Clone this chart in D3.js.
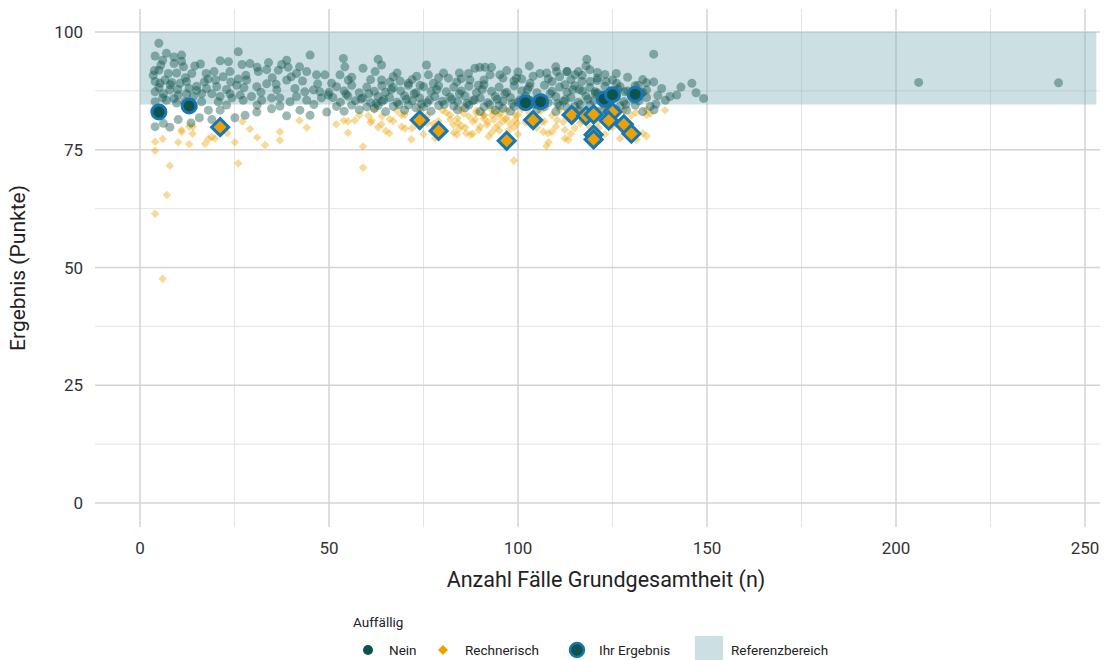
<!DOCTYPE html>
<html><head><meta charset="utf-8">
<script src="https://cdn.jsdelivr.net/npm/d3@7"></script>
<style>body{margin:0;background:#fff}svg{display:block;font-family:Roboto,"Noto Sans",sans-serif}</style>
</head><body><svg id="c" width="1109" height="660"></svg>
<script>
const xTicks=[0,50,100,150,200,250];
const xMinor=[25,75,125,175,225];
const yTicks=[0,25,50,75,100];
const yMinor=[12.5,37.5,62.5,87.5];
const refBand={x0:0,x1:253,y0:84.6,y1:100};
const legendLabels=["Nein","Rechnerisch","Ihr Ergebnis","Referenzbereich"];

const nein=[[5,97.6],[4,94.9],[7,95.5],[6,94],[9,94.7],[11,95.1],[11,93.8],[9,93.3],[11.5,92.6],[5,91.9],[7.5,91.2],[9.7,91.3],[13.7,91.2],[14.5,92.8],[16,93.2],[17.5,91.2],[19.6,91.6],[21.2,93.9],[23.4,93.7],[26,95.8],[23.8,91.6],[22,90.5],[4,89.5],[5.3,89.1],[6.6,89.8],[8.4,89.3],[10.6,89.1],[12.3,89.5],[15,88.5],[17.6,88],[20.3,88.4],[22.9,87.8],[25.6,88.7],[4,87.3],[6.2,86.9],[7.9,87.7],[10.1,86.6],[12.3,86.9],[14.1,86.3],[16.3,86.9],[19,86.9],[21.2,86.3],[23.8,86.9],[26.5,86.6],[4,85.2],[7,85.5],[9.7,84.9],[11.9,85.2],[14.1,84.1],[16.3,85.2],[18.1,83.4],[20.7,85.2],[22.9,84.5],[24.3,86],[4,83.4],[4,79.9],[6.2,80.6],[7.9,79.8],[10.1,81.4],[13.5,80.7],[15.7,81.8],[19,81.4],[21.2,83.4],[25.1,81.8],[27.3,85.5],
[5,88.2],[8,88.8],[10,87.8],[13,88],[17,89.4],[6,86],[9,85.9],[15,87.6],[18,90],[20,89.8],[24,89.4],[12,90.3],[3.5,90.8],[3.8,91.8],[5.5,93],[27,93.1],[26,90],[28,90.8],[27.5,88.2],
[29.1,93.3],[31,92.5],[31.3,91.6],[33.5,92],[36.6,91.9],[38.8,94],[39.2,92.5],[41.4,91.2],[42.2,92.6],[45,95.1],[44.1,91.6],[46.7,90.9],[48.9,90.9],[28.2,89.8],[30.9,88.4],[33.5,89],[36.2,87.7],[38.8,89.8],[41,88],[43.6,87.3],[45.9,87.7],[47.6,87.3],[29.5,86.3],[32.2,85.5],[34.8,86],[37,86],[39.7,85.2],[41.4,86.3],[44.1,85.5],[48,86],[49.8,86.6],[27.8,82.3],[30.9,83],[34.8,83.7],[37,84.3],[38.8,82.2],[42.3,83.4],[45,82.3],[49.4,83],
[35,90.3],[40,90.5],[43,89.6],[47,89],[32,87.2],[36,88.9],[46,84.6],[31,84.5],[34,93.5],[37.5,93.1],
[50.7,89.1],[53.8,94.4],[54.2,92.6],[52.9,90.9],[55.1,89.8],[59,92.3],[63,94.2],[63.9,93],[62.2,91.6],[63.9,89.8],[66.1,89.4],[68,91.3],[68.8,89.6],[71,89.1],[73.2,90.6],[75.8,93],[76.3,90.9],[74.1,88.7],[77.6,89.1],[80.3,91.3],[81.6,90.2],[83.8,89.4],[84.5,91.3],[86.9,91.2],[88.6,92.3],[89.9,92.5],[91.3,92.5],[93,92.5],[92.6,90.9],[95.2,90.9],[97,91.8],[98.9,89.6],[87.3,89.8],[89.5,88.7],
[52,88.4],[56,88.7],[60,88.3],[64,88.6],[67,88.2],[71,88.7],[75,88.4],[79,88.6],[83,88.3],[87,88.5],[91,88.8],[95,88.3],[99,88.6],[103,88.4],[107,88.7],[111,88.3],[115,88.6],[119,88.2],[123,88.5],[127,88.4],[131,88.6],
[50,87.2],[54,87.5],[58,87.1],[62,87.4],[65,87.2],[69,87.5],[73,87.1],[77,87.4],[81,87.3],[85,87.5],[89,87.1],[93,87.4],[97,87.2],[101,87.5],[105,87.1],[109,87.4],[113,87.2],[117,87.5],[121,87.1],[125,87.3],[129,87.5],[133,87.2],
[51,86.1],[55,86.4],[59,86],[63,86.3],[66,86.1],[70,86.4],[74,86],[78,86.3],[82,86.2],[86,86.4],[90,86],[94,86.3],[98,86.1],[102,86.4],[106,86],[110,86.3],[114,86.1],[118,86.4],[122,86],[126,86.2],[130,86.4],[134,86.1],
[53,85.1],[57,85.4],[61,85],[64,85.3],[68,85.1],[72,85.4],[76,85],[80,85.3],[84,85.2],[88,85.4],[92,85],[96,85.3],[100,85.1],[104,85.4],[108,85],[112,85.3],[116,85.1],[120,85.4],[124,85],[128,85.2],[132,85.4],
[52,84.2],[56,84.5],[60,84.1],[63,84.4],[67,84.2],[71,84.5],[75,84.1],[79,84.4],[83,84.3],[87,84.5],[91,84.1],[95,84.4],[99,84.2],[103,84.5],[107,84.1],[111,84.4],[115,84.2],[119,84.5],[123,84.1],[127,84.3],[131,84.5],[135,84.2],
[54,83.2],[58,83.5],[65,83.1],[70,83.4],[77,83.2],[84,83.5],[90,83.1],[94,83.4],[98,83.2],[105,83.5],[110,83.1],[116,83.4],[121,83.2],[126,83.5],[133,83.1],
[54.5,86.8],[58.5,85.8],[62.5,84.8],[66.5,87.8],[70.5,85.7],[74.5,84.7],[78.5,87.8],[82.5,85.7],[86.5,84.8],[90.5,87.8],[94.5,85.7],[98.5,84.8],[102.5,87.8],[106.5,85.7],[110.5,84.8],[114.5,87.8],[118.5,85.7],[122.5,84.8],[126.5,87.8],[130.5,85.7],
[60.5,86.9],[64.5,85.6],[68.5,84.6],[72.5,86.9],[76.5,85.6],[80.5,84.6],[84.5,86.9],[88.5,85.6],[92.5,84.6],[96.5,86.9],[100.5,85.6],[104.5,84.6],[108.5,86.9],[112.5,85.6],[116.5,84.6],[120.5,86.9],[124.5,85.6],[128.5,84.6],[132.5,86.9],[86,83.9],[96,83.8],[113,83.9],[124,83.8],[73,83.9],[62,83.8],
[56,90.4],[61,89.9],[67,90.5],[72,89.9],[79,90.3],[85,90.1],[91,89.8],[96,90.2],[101,90],[104,90.6],[108,90.1],[111,90.5],[114,89.9],[117,90.8],[121,90.2],[125,89.8],[129,90.4],[133,89.9],[110,92.6],[113,91.6],[100,91.5],[103,92.8],
[118.2,94.2],[118,92.8],[116,91.6],[119,92],[121,91.4],[123,91],[126,91.2],[123.3,89.5],[121,89.7],[126.1,89.1],[128.3,87.3],[131.8,88.7],[134,89.2],[135.9,89.4],[135.9,95.3],[134,87.7],[140.2,86.3],[142,86.6],[146,89.1],[143.1,88.3],[147.1,87.1],[149.1,85.9],[136,83.5],[128.7,83.4],
[105.8,91.2],[107.6,91.3],[110.2,91.6],[112.9,91.6],[99.6,90.2],[103.2,89.1],[109,89.5],[112.4,88.8],[115.1,90.9],[116.9,89.5],[119.1,89.5],[116.2,87.8],[120.4,87.3],
[137,86.5],[138,88],[139,85.5],[136.5,84.7],[206,89.3],[243,89.2]];

const rechnerisch=[[4,76.7],[4,74.8],[6,77.3],[7.9,71.6],[7.1,65.4],[4,61.4],[6,47.6],[10.1,76.6],[11,78.8],[13,76.2],[13.9,78.4],[13,79.9],[17.2,76.3],[18.1,77.3],[19,77.7],[23.1,78.5],[25.1,76.6],[26,72.1],[27.1,81],[29.1,79.4],[31,77.6],[33.1,76],[37,78.8],[37,77],[42.2,81.2],[44.1,79.7],[14,79.9],[11,79.2],[19.8,79.9],[19.8,77.4],
[51.9,80.4],[53.9,81.2],[55,78.6],[56.8,81.2],[59,75.7],[59,71.2],[60.4,82.2],[61.3,81.2],[63.9,80.4],[65,79],[66.1,81.5],[69.2,79.9],[70.1,79.5],[71.8,77.2],[69.2,82.4],[77.7,80.5],[78.1,77.4],[79.4,79.1],[82.1,81.5],[82.9,80.3],[84.3,79.4],[83.8,78.2],[85.6,82.7],[86.3,78.5],[87.4,78.2],[88.7,81.4],[89.6,79.2],[90.9,82.4],[91.8,80.3],[92.2,77.8],[93.1,82.4],[93.6,81.4],[94.9,80.3],[95.4,82.7],[96.7,81.4],[97.6,79.2],[99.3,82.4],[99.8,80.6],[98.9,72.7],
[99.2,81.3],[106.3,80.9],[106.7,78.8],[109,78.8],[108.1,76.6],[112.4,79.2],[112.4,77.4],[113.3,77.1],[110.3,81.3],[116.5,80.6],[119.1,79.8],[121.3,79.6],[121.7,77.1],[127,77.4],[131.2,82.9],[134,82.4],[135,82.7],[138.9,83.4],[134,77.9],[131.4,77.1],[107.5,75.8],
[62,83.5],[68,83.3],[74,83.6],[80,83.4],[85,83.6],[89,83.3],[93,83.5],[97,83.4],[101,83.6],[106,83.3],[111,83.5],[116,83.4],[122,83.6],[128,83.3],[134,83.5],
[58,82.3],[64,82.1],[70,82.4],[76,82.2],[82,82.4],[87,82.1],[91,82.3],[95,82.2],[100,82.4],[104,82.1],[109,82.3],[113,82.2],[118,82.4],[124,82.1],[130,82.3],
[55,81],[61,80.8],[67,81.1],[73,80.9],[79,81.1],[84,80.8],[88,81],[92,80.9],[96,81.1],[102,80.8],[107,81],[112,80.9],[117,81.1],[121,80.8],[127,81],
[63,79.8],[72,79.6],[78,79.9],[86,79.7],[90,79.9],[94,79.6],[99,79.8],[105,79.7],[110,79.9],[115,79.6],[125,79.8],
[66,78.5],[75,78.3],[83,78.6],[88,78.4],[93,78.6],[100,78.3],[108,78.5],[114,78.4],[119,78.6],[123,78.3],[133,78.5],
[81,82.9],[84,81.7],[89,82.8],[91,81.6],[94,82.9],[97,81.8],[98,80.5],[95,79.1],[85,80.1],[80,79.6],[76,80.7],[103,82.9],[115,82.9],[126,82.8]];

const ihrNein=[[5,83],[13,84.3],[102,85],[106,85.2],[122.8,85.8],[125,86.7],[131,86.8]];
const ihrRech=[[21.2,79.8],[74,81.3],[79,79],[97,76.9],[104,81.3],[114.2,82.4],[118,82.2],[120,82.5],[125,83],[124,81.2],[128,80.4],[130,78.4],[120,78.2],[120,77.2]];

const C_NEIN="#0f534d", C_RECH="#eba200", C_BLUE="#1676b6", C_BAND="#7fb0b7";
const svg=d3.select("#c");
const x=d3.scaleLinear().domain([0,250]).range([140,1085]);
const y=d3.scaleLinear().domain([0,100]).range([503,32]);
const gx0=95,gx1=1100,gy0=9,gy1=527;

const g=svg.append("g");
g.selectAll(".hm").data(yMinor).join("line").attr("x1",gx0).attr("x2",gx1).attr("y1",d=>y(d)).attr("y2",d=>y(d)).attr("stroke","#e3e3e3").attr("stroke-width",1);
g.selectAll(".vm").data(xMinor).join("line").attr("y1",gy0).attr("y2",gy1).attr("x1",d=>x(d)).attr("x2",d=>x(d)).attr("stroke","#e3e3e3").attr("stroke-width",1);
g.selectAll(".hM").data(yTicks).join("line").attr("x1",gx0).attr("x2",gx1).attr("y1",d=>y(d)).attr("y2",d=>y(d)).attr("stroke","#d3d3d3").attr("stroke-width",1.5);
g.selectAll(".vM").data(xTicks).join("line").attr("y1",gy0).attr("y2",gy1).attr("x1",d=>x(d)).attr("x2",d=>x(d)).attr("stroke","#d3d3d3").attr("stroke-width",1.5);

svg.append("rect").attr("x",x(refBand.x0)).attr("y",y(refBand.y1)).attr("width",x(refBand.x1)-x(refBand.x0)).attr("height",y(refBand.y0)-y(refBand.y1)).attr("fill",C_BAND).attr("opacity",0.4);

const diamond=(s)=>`M0,${-s}L${s},0L0,${s}L${-s},0Z`;
svg.append("g").selectAll("path").data(rechnerisch).join("path").attr("d",diamond(4.3)).attr("transform",d=>`translate(${x(d[0])},${y(d[1])})`).attr("fill",C_RECH).attr("opacity",0.4);
svg.append("g").selectAll("circle").data(nein).join("circle").attr("cx",d=>x(d[0])).attr("cy",d=>y(d[1])).attr("r",4.5).attr("fill",C_NEIN).attr("opacity",0.42);
svg.append("g").selectAll("path").data(ihrRech).join("path").attr("d",diamond(8.5)).attr("transform",d=>`translate(${x(d[0])},${y(d[1])})`).attr("fill",C_RECH).attr("stroke",C_BLUE).attr("stroke-width",3);
svg.append("g").selectAll("circle").data(ihrNein).join("circle").attr("cx",d=>x(d[0])).attr("cy",d=>y(d[1])).attr("r",7).attr("fill",C_NEIN).attr("stroke",C_BLUE).attr("stroke-width",3);

svg.append("g").selectAll("text").data(yTicks).join("text").attr("x",83).attr("y",d=>y(d)).attr("dy","0.36em").attr("text-anchor","end").attr("font-size",17).attr("fill","#333").text(d=>d);
svg.append("g").selectAll("text").data(xTicks).join("text").attr("x",d=>x(d)).attr("y",548).attr("dy","0.36em").attr("text-anchor","middle").attr("font-size",17).attr("fill","#333").text(d=>d);
svg.append("text").attr("x",606).attr("y",587).attr("text-anchor","middle").attr("font-size",21.5).attr("fill","#222").text("Anzahl Fälle Grundgesamtheit (n)");
svg.append("text").attr("transform","translate(25,268) rotate(-90)").attr("text-anchor","middle").attr("font-size",21).attr("fill","#222").text("Ergebnis (Punkte)");

const L=svg.append("g").attr("font-size",13.5).attr("fill","#222");
L.append("text").attr("x",353).attr("y",627).text("Auffällig");
const ly=650;
L.append("circle").attr("cx",368).attr("cy",ly).attr("r",5).attr("fill",C_NEIN);
L.append("text").attr("x",389).attr("y",ly).attr("dy","0.35em").text(legendLabels[0]);
L.append("path").attr("d",diamond(5)).attr("transform",`translate(443,${ly})`).attr("fill",C_RECH);
L.append("text").attr("x",465).attr("y",ly).attr("dy","0.35em").text(legendLabels[1]);
L.append("circle").attr("cx",577).attr("cy",ly).attr("r",7).attr("fill",C_NEIN).attr("stroke",C_BLUE).attr("stroke-width",2.5);
L.append("text").attr("x",599).attr("y",ly).attr("dy","0.35em").text(legendLabels[2]);
L.append("rect").attr("x",695).attr("y",636).attr("width",28).attr("height",24).attr("fill",C_BAND).attr("opacity",0.4);
L.append("text").attr("x",731).attr("y",ly).attr("dy","0.35em").text(legendLabels[3]);
</script></body></html>
